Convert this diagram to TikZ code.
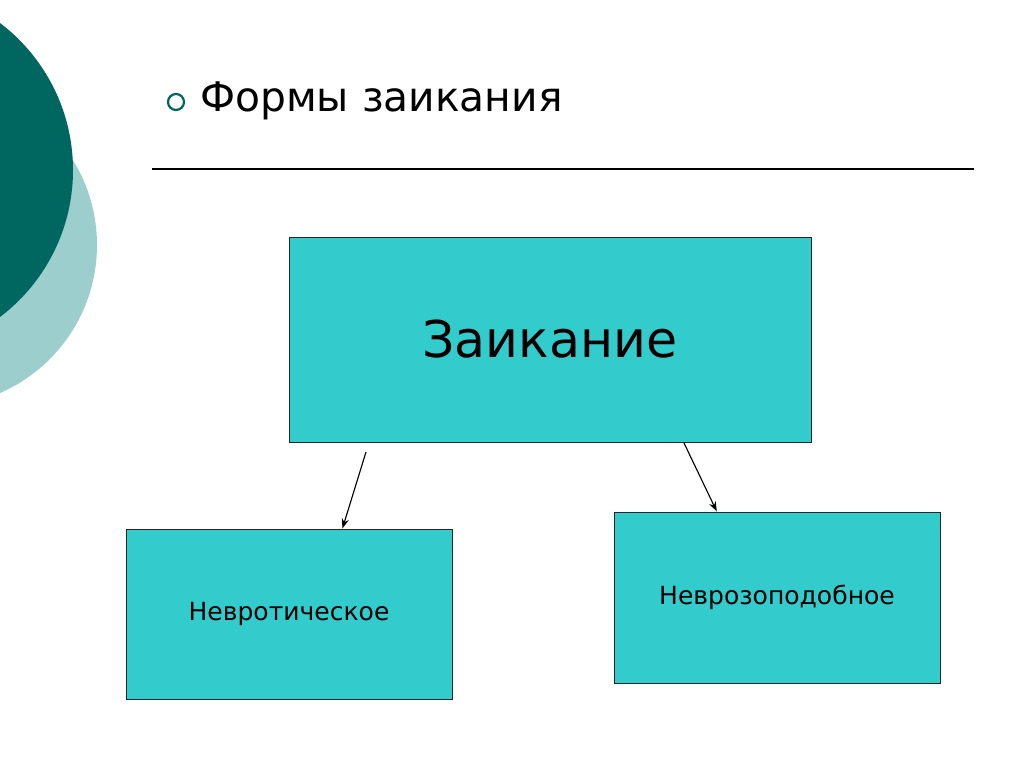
\documentclass[tikz,border=0pt]{standalone}
\usepackage{fontspec}
\setmainfont{DejaVu Sans}
\usetikzlibrary{arrows.meta}
\definecolor{tealdark}{RGB}{0,102,96}
\definecolor{teallight}{RGB}{156,206,206}
\definecolor{boxfill}{RGB}{51,204,204}
\begin{document}
\begin{tikzpicture}[>={Stealth[length=7pt,width=5pt]}, x=0.025cm, y=-0.025cm,
	box/.style={draw=black!85, line width=0.7pt, fill=boxfill, inner sep=0pt},
	arr/.style={->, line width=0.8pt}]
	
	% 1. Kích thước trang
	\useasboundingbox (0,0) rectangle (1024,767);
	
	% 2. Hai hình tròn trang trí bên trái
	\begin{scope}
		\clip (0,0) rectangle (1024,767);
		\fill[teallight] (-64.4,245) circle[radius=161.4];
		\fill[tealdark] (-111.5,170) circle[radius=184.5];
	\end{scope}
	
	% 3. Tiêu đề và đường kẻ
	\draw[tealdark, line width=1.6pt] (176,102) circle[radius=8];
	\node (tieude) at (200,112) [anchor=base west, inner sep=0pt] {\fontsize{29}{34}\selectfont Формы заикания};
	\draw[line width=0.8pt] (152,169) -- (974,169);
	
	% 4. Các hộp
	\node (zaik) at (550,339.5) [box, minimum width=522*0.025cm, minimum height=205*0.025cm] {\fontsize{36}{42}\selectfont Заикание};
	\node (nevr) at (289,614) [box, minimum width=326*0.025cm, minimum height=170*0.025cm] {\fontsize{17.8}{21}\selectfont Невротическое};
	\node (nevroz) at (777,597.5) [box, minimum width=326*0.025cm, minimum height=171*0.025cm] {\fontsize{17.8}{21}\selectfont Неврозоподобное};
	
	% 5. Mũi tên
	\coordinate (zl) at (366,452);
	\coordinate (zr) at (684,443);
	\draw[arr] (zl) -- (nevr.58.5);
	\draw[arr] (zr) -- (nevroz.125);
	
\end{tikzpicture}
\end{document}
